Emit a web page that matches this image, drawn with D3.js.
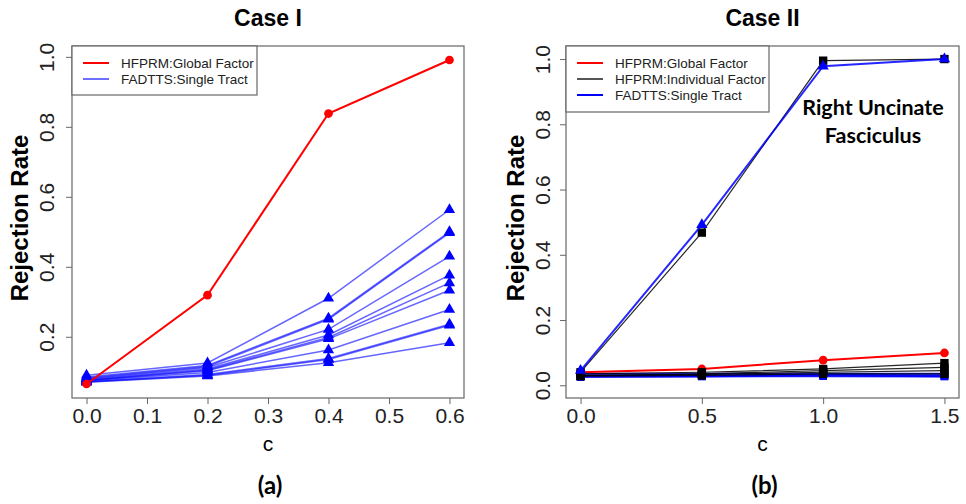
<!DOCTYPE html>
<html>
<head>
<meta charset="utf-8">
<script src="https://cdn.jsdelivr.net/npm/d3@7"></script>
<style>
  body { margin: 0; background: #fff; }
  svg { display: block; }
  .axis text { font-family: "Liberation Sans", Arial, sans-serif; font-size: 21px; fill: #222; }
  .axis line { stroke: #666; }
  .axis path { display: none; }
</style>
</head>
<body>
<svg id="chart" width="966" height="504"></svg>
<script>
// ---- data ----
var cCase1 = [0, 0.2, 0.4, 0.6];
var globalCase1 = [0.065, 0.319, 0.838, 0.991];
// one row per tract (FADTTS single tract)
var tractCase1 = [
  [0.090, 0.125, 0.310, 0.563],
  [0.085, 0.118, 0.253, 0.500],
  [0.082, 0.115, 0.250, 0.497],
  [0.080, 0.112, 0.221, 0.430],
  [0.078, 0.108, 0.205, 0.376],
  [0.076, 0.105, 0.198, 0.354],
  [0.075, 0.103, 0.194, 0.333],
  [0.074, 0.098, 0.162, 0.278],
  [0.072, 0.092, 0.138, 0.236],
  [0.071, 0.090, 0.135, 0.233],
  [0.070, 0.088, 0.126, 0.183]
];
var xTicks1 = [0, 0.1, 0.2, 0.3, 0.4, 0.5, 0.6];
var yTicks1 = [0.2, 0.4, 0.6, 0.8, 1.0];

var cCase2 = [0, 0.5, 1.0, 1.5];
var globalCase2 = [0.040, 0.050, 0.077, 0.099];
var individualCase2 = [
  [0.040, 0.468, 0.995, 1.000],
  [0.035, 0.040, 0.050, 0.068],
  [0.030, 0.035, 0.045, 0.055],
  [0.030, 0.033, 0.040, 0.045],
  [0.028, 0.030, 0.035, 0.035]
];
var tractCase2 = [
  [0.045, 0.492, 0.978, 1.000],
  [0.035, 0.035, 0.035, 0.035],
  [0.030, 0.030, 0.032, 0.030],
  [0.028, 0.028, 0.030, 0.028],
  [0.025, 0.027, 0.028, 0.027]
];
var xTicks2 = [0, 0.5, 1.0, 1.5];
var yTicks2 = [0, 0.2, 0.4, 0.6, 0.8, 1.0];

var svg = d3.select("#chart");
var sans = "'Liberation Sans', Arial, sans-serif";
var calibri = "Lato, 'Open Sans', sans-serif";

function panel(opt) {
  var g = svg.append("g");
  var x = d3.scaleLinear().domain(opt.xDomain).range([opt.left, opt.right]);
  var y = d3.scaleLinear().domain(opt.yDomain).range([opt.bottom, opt.top]);

  // x axis
  g.append("g").attr("class", "axis")
    .attr("transform", "translate(0," + opt.bottom + ")")
    .call(d3.axisBottom(x).tickValues(opt.xTicks).tickSize(6).tickPadding(4)
      .tickFormat(d3.format(".1f")));
  // y axis, labels rotated like R
  var ya = g.append("g").attr("class", "axis")
    .attr("transform", "translate(" + opt.left + ",0)")
    .call(d3.axisLeft(y).tickValues(opt.yTicks).tickSize(6).tickFormat(d3.format(".1f")));
  ya.selectAll("text")
    .attr("x", 0).attr("dy", "0.35em")
    .attr("text-anchor", "middle")
    .attr("transform", "translate(" + opt.yLabOff + ",0) rotate(-90)");

  var line = d3.line().x(function(d) { return x(d.c); }).y(function(d) { return y(d.v); });
  function pts(vals) { return vals.map(function(v, i) { return { c: opt.cs[i], v: v }; }); }

  opt.series.forEach(function(s) {
    s.rows.forEach(function(row) {
      g.append("path").datum(pts(row))
        .attr("d", line)
        .attr("fill", "none")
        .attr("stroke", s.color)
        .attr("stroke-opacity", s.lineOpacity)
        .attr("stroke-width", s.width);
      g.selectAll(null).data(pts(row)).enter().append("path")
        .attr("transform", function(d) { return "translate(" + x(d.c) + "," + y(d.v) + ")"; })
        .attr("d", d3.symbol().type(s.symbol).size(s.size))
        .attr("fill", s.color);
    });
  });

  // plot box
  g.append("rect")
    .attr("x", opt.left).attr("y", opt.top)
    .attr("width", opt.right - opt.left).attr("height", opt.bottom - opt.top)
    .attr("fill", "none").attr("stroke", "#666").attr("stroke-width", 1.2);

  // legend
  var lg = opt.legend;
  g.append("rect")
    .attr("x", opt.left).attr("y", opt.top)
    .attr("width", lg.w).attr("height", lg.h)
    .attr("fill", "#fff").attr("stroke", "#666").attr("stroke-width", 1.2);
  lg.items.forEach(function(it, i) {
    var yy = opt.top + 17 + i * 16;
    g.append("line")
      .attr("x1", opt.left + 11).attr("x2", opt.left + 37)
      .attr("y1", yy).attr("y2", yy)
      .attr("stroke", it.color).attr("stroke-width", 2);
    g.append("text")
      .attr("x", opt.left + 49).attr("y", yy).attr("dy", "0.35em")
      .style("font-family", sans).style("font-size", "13.5px").style("fill", "#222")
      .text(it.label);
  });

  var cx = (opt.left + opt.right) / 2;
  g.append("text").attr("x", cx).attr("y", 26).attr("text-anchor", "middle")
    .style("font-family", sans).style("font-weight", "bold").style("font-size", "23px")
    .text(opt.title);
  g.append("text").attr("x", cx).attr("y", 451).attr("text-anchor", "middle")
    .style("font-family", sans).style("font-size", "21px").text("c");
  g.append("text").attr("x", cx + 2).attr("y", 494).attr("text-anchor", "middle")
    .style("font-family", calibri).style("font-weight", "bold").style("font-size", "24px")
    .text(opt.sub);
  g.append("text")
    .attr("transform", "translate(" + opt.yTitleX + ",218) rotate(-90)")
    .attr("text-anchor", "middle").attr("dy", "0.35em")
    .style("font-family", sans).style("font-weight", "bold").style("font-size", "24px")
    .text("Rejection Rate");
  return { g: g, x: x, y: y };
}

panel({
  left: 72, right: 464, top: 46, bottom: 398,
  xDomain: [-0.024, 0.624], yDomain: [0.025, 1.031],
  xTicks: xTicks1, yTicks: yTicks1, yLabOff: -25, yTitleX: 20,
  cs: cCase1, title: "Case I", sub: "(a)",
  series: [
    { rows: tractCase1, color: "#0000ff", lineOpacity: 0.6, width: 1.5, symbol: d3.symbolTriangle, size: 55 },
    { rows: [globalCase1], color: "#ff0000", lineOpacity: 1, width: 2, symbol: d3.symbolCircle, size: 60 }
  ],
  legend: { w: 185, h: 49, items: [
    { label: "HFPRM:Global Factor", color: "#ff0000" },
    { label: "FADTTS:Single Tract", color: "#6f6fff" }
  ] }
});

var p2 = panel({
  left: 566, right: 959, top: 46, bottom: 398,
  xDomain: [-0.06, 1.56], yDomain: [-0.039, 1.04],
  xTicks: xTicks2, yTicks: yTicks2, yLabOff: -23, yTitleX: 516,
  cs: cCase2, title: "Case II", sub: "(b)",
  series: [
    { rows: tractCase2.slice(1), color: "#0000ff", lineOpacity: 0.85, width: 2, symbol: d3.symbolSquare, size: 60 },
    { rows: [globalCase2], color: "#ff0000", lineOpacity: 1, width: 2, symbol: d3.symbolCircle, size: 60 },
    { rows: individualCase2, color: "#000000", lineOpacity: 0.85, width: 1.2, symbol: d3.symbolSquare, size: 70 },
    { rows: tractCase2.slice(0, 1), color: "#0000ff", lineOpacity: 0.85, width: 2, symbol: d3.symbolTriangle, size: 55 }
  ],
  legend: { w: 203, h: 66, items: [
    { label: "HFPRM:Global Factor", color: "#ff0000" },
    { label: "HFPRM:Individual Factor", color: "#555555" },
    { label: "FADTTS:Single Tract", color: "#0000ff" }
  ] }
});

p2.g.append("text").attr("x", 873).attr("y", 115).attr("text-anchor", "middle")
  .style("font-family", calibri).style("font-weight", "bold").style("font-size", "21.5px")
  .text("Right Uncinate");
p2.g.append("text").attr("x", 873).attr("y", 143).attr("text-anchor", "middle")
  .style("font-family", calibri).style("font-weight", "bold").style("font-size", "21.5px")
  .text("Fasciculus");
</script>
</body>
</html>
